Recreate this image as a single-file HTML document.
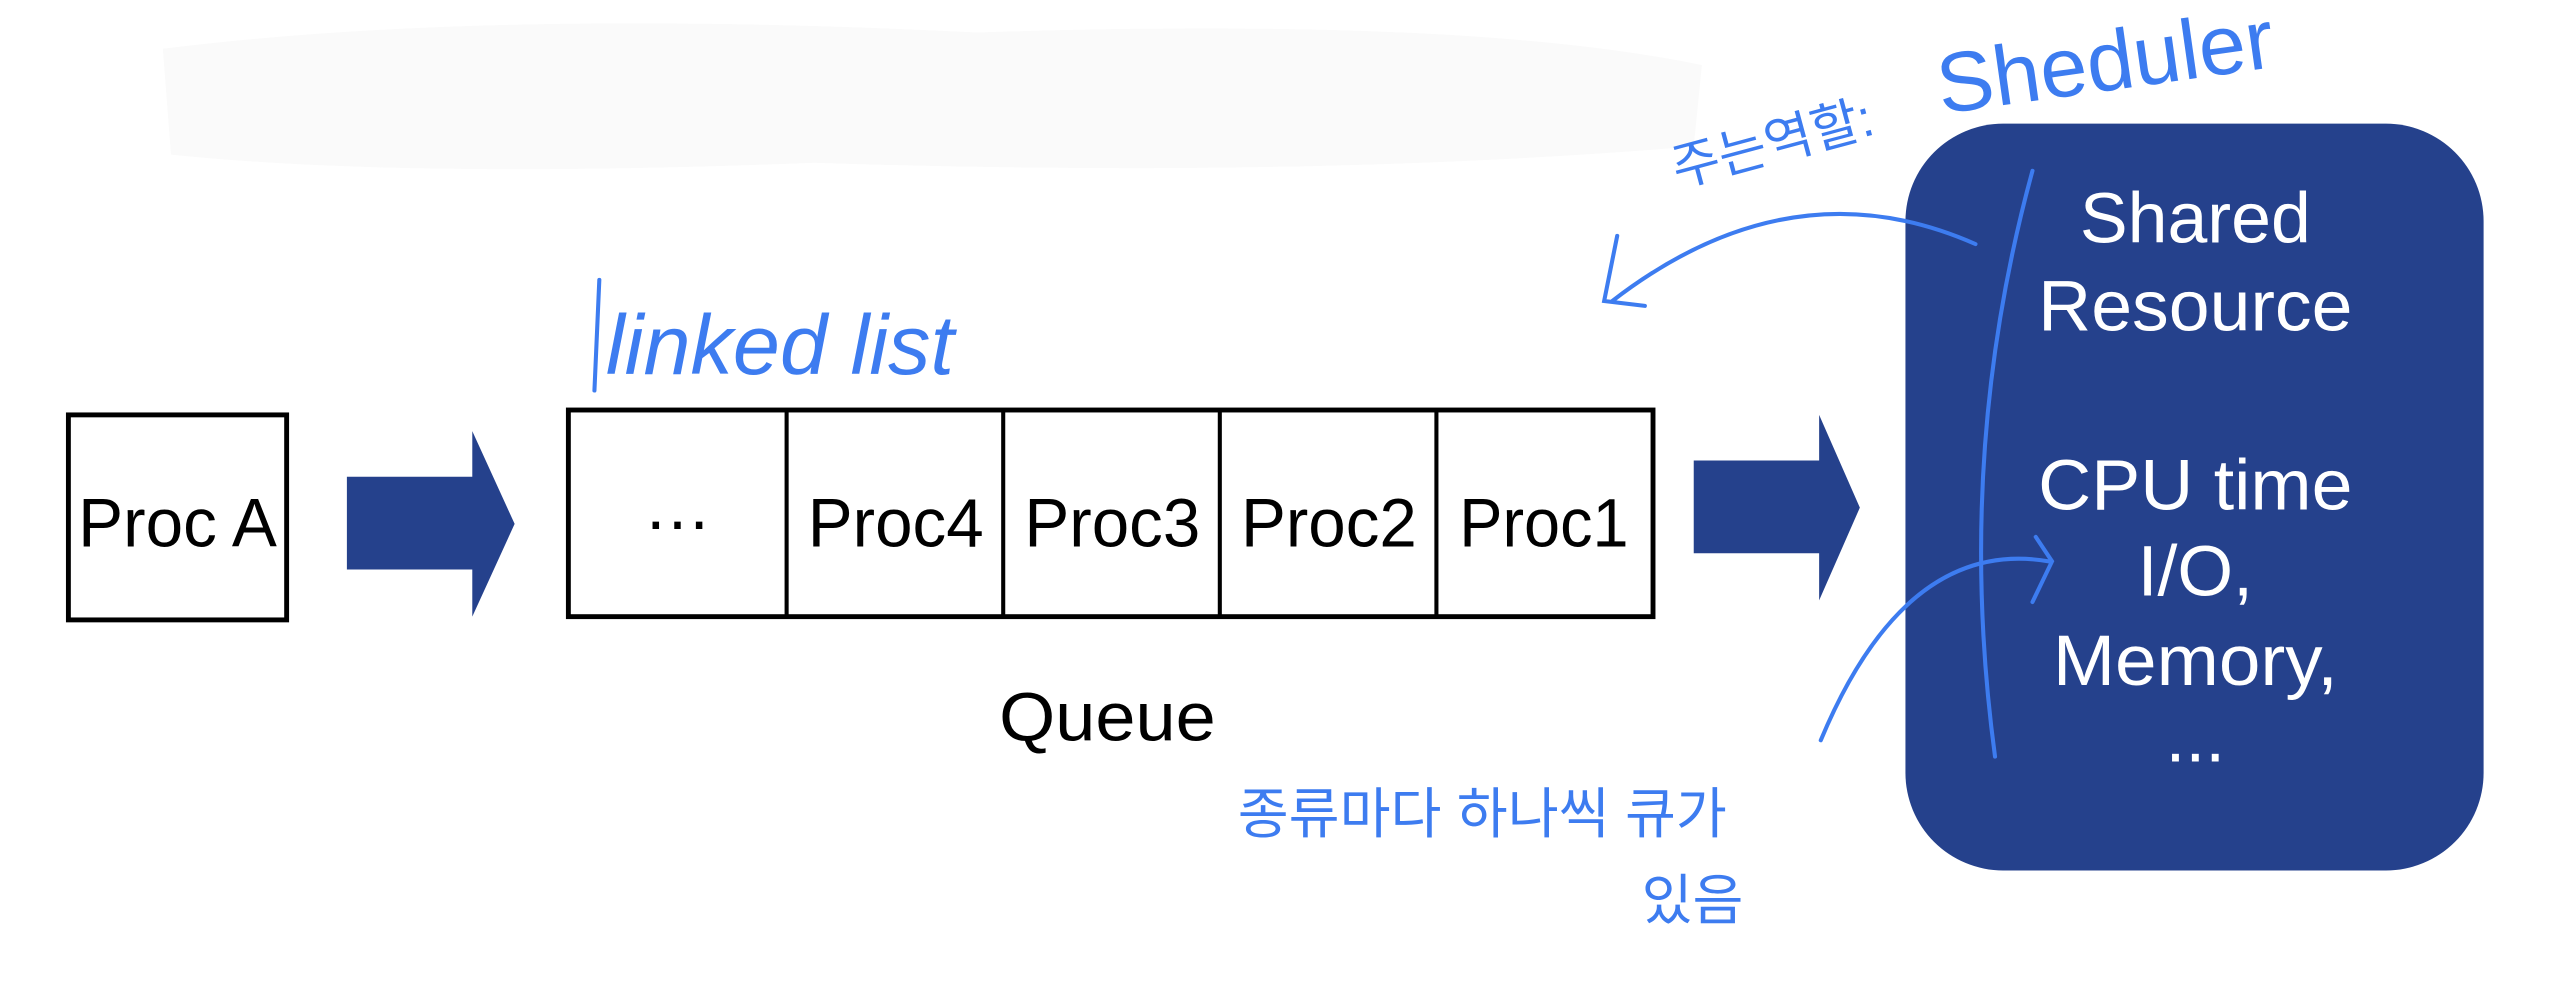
<!DOCTYPE html>
<html><head><meta charset="utf-8"><style>
html,body{margin:0;padding:0;background:#fff;}
svg{display:block;}
</style></head><body>
<svg width="2552" height="999" viewBox="0 0 1567 614" preserveAspectRatio="none" xmlns="http://www.w3.org/2000/svg">
<rect x="0" y="0" width="1567" height="614" fill="#fff"/>
<path d="M100 30 Q300 5 600 20 Q900 10 1045 40 L1040 90 Q800 110 500 100 Q250 110 105 95 Z" fill="#fafafa"/>
<rect x="42" y="255" width="134" height="126" fill="#fff" stroke="#000" stroke-width="3"/>
<text x="109" y="336" font-family="Liberation Sans, sans-serif" font-size="42" text-anchor="middle" textLength="122" lengthAdjust="spacingAndGlyphs">Proc A</text>
<polygon points="213,293 290,293 290,265 316,322 290,379 290,350 213,350" fill="#25418c"/>
<rect x="349" y="252" width="666" height="127" fill="#fff" stroke="#000" stroke-width="3"/>
<g stroke="#000" stroke-width="2.5">
<line x1="483" y1="252" x2="483" y2="379"/><line x1="616" y1="252" x2="616" y2="379"/>
<line x1="749" y1="252" x2="749" y2="379"/><line x1="882" y1="252" x2="882" y2="379"/>
</g>
<g font-family="Liberation Sans, sans-serif" font-size="42" text-anchor="middle">
<text x="416" y="325">…</text>
<text x="550" y="336" textLength="108" lengthAdjust="spacingAndGlyphs">Proc4</text>
<text x="683" y="336" textLength="108" lengthAdjust="spacingAndGlyphs">Proc3</text>
<text x="816" y="336" textLength="108" lengthAdjust="spacingAndGlyphs">Proc2</text>
<text x="948" y="336" textLength="104" lengthAdjust="spacingAndGlyphs">Proc1</text>
<text x="680" y="455" textLength="133" lengthAdjust="spacingAndGlyphs">Queue</text>
</g>
<polygon points="1040,283 1117,283 1117,255 1142,312 1117,369 1117,340 1040,340" fill="#25418c"/>
<rect x="1170" y="76" width="355" height="459" rx="60" fill="#25418c"/>
<g font-family="Liberation Sans, sans-serif" font-size="44" fill="#fff" text-anchor="middle">
<text x="1348" y="149">Shared</text><text x="1348" y="203" textLength="193" lengthAdjust="spacingAndGlyphs">Resource</text>
<text x="1348" y="313" textLength="193" lengthAdjust="spacingAndGlyphs">CPU time</text><text x="1348" y="366">I/O,</text>
<text x="1348" y="421" textLength="175" lengthAdjust="spacingAndGlyphs">Memory,</text><text x="1348" y="468">...</text>
</g>
<g fill="none" stroke="#3d7cf0" stroke-width="2.5" stroke-linecap="round">
<path d="M1248 105 Q1200 280 1225 465"/>
<path d="M1213 150 Q1100 100 990 185"/>
<path d="M993 145 L985 185 L1010 188"/>
<path d="M1118 455 Q1170 330 1258 345"/>
<path d="M1250 330 L1260 345 L1248 370"/>
<path d="M368 172 L365 240"/>
</g>
<g font-family="Liberation Sans, 'Noto Sans CJK KR', sans-serif" fill="#3d7cf0">
<text x="1192" y="70" font-size="52" transform="rotate(-8 1192 70)">Sheduler</text>
<text x="1030" y="115" font-size="32" transform="rotate(-15 1030 115)">주는역할:</text>
<text x="372" y="230" font-size="52" font-style="italic">linked list</text>
<text x="760" y="512" font-size="34">종류마다 하나씩 큐가</text>
<text x="1008" y="565" font-size="34">있음</text>
</g>
</svg>
</body></html>
